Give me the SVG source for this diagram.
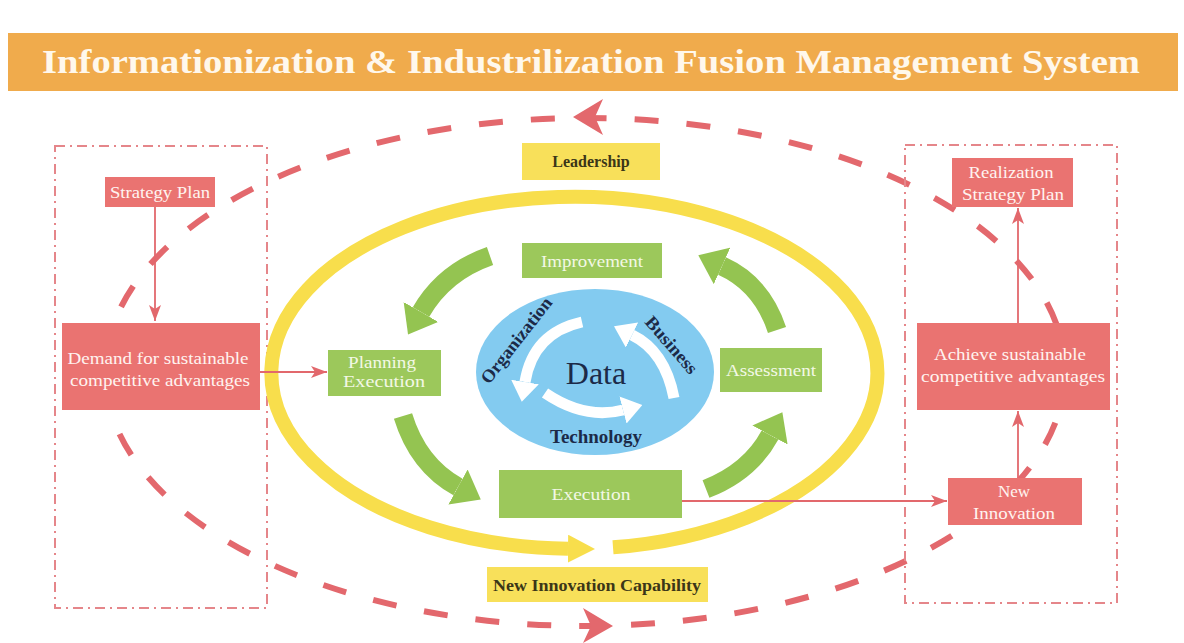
<svg xmlns="http://www.w3.org/2000/svg" width="1184" height="643" viewBox="0 0 1184 643">
<defs>
<style>
.title{font-family:"Liberation Serif","Times New Roman",serif;font-weight:bold;font-size:34px;fill:#FFF8EC}
.rt{font-family:"Liberation Serif","Times New Roman",serif;font-size:17px;fill:#FFF3F0}
.gt{font-family:"Liberation Serif","Times New Roman",serif;font-size:17px;fill:#F3F8E6}
.yt{font-family:"Liberation Serif","Times New Roman",serif;font-weight:bold;font-size:16px;fill:#3B3618}
.dt{font-family:"Liberation Serif","Times New Roman",serif;font-size:18px;font-weight:bold;fill:#1C2A48}
.red{fill:#EA7371}
.green{fill:#9CC85B}
.yel{fill:#F8E05A}
.frame{fill:none;stroke:#E5868A;stroke-width:2;stroke-dasharray:10 5 2 5}
.conn{fill:none;stroke:#E2686C;stroke-width:1.8}
.garrow{fill:none;stroke:#94C451;stroke-width:19}
.warrow{fill:none;stroke:#FFFFFF;stroke-width:11}
</style>
<marker id="redHead" markerUnits="userSpaceOnUse" viewBox="0 0 16 12" refX="16" refY="6" markerWidth="16" markerHeight="12" orient="auto">
<path d="M0,0 L16,6 L0,12 L4,6 z" fill="#E2686C"/>
</marker>
<marker id="greenHead" markerUnits="userSpaceOnUse" viewBox="0 0 26 40" refX="0" refY="20" markerWidth="26" markerHeight="40" orient="auto">
<path d="M0,0 L26,20 L0,40 z" fill="#94C451"/>
</marker>
<marker id="whiteHead" markerUnits="userSpaceOnUse" viewBox="0 0 20 28" refX="0" refY="14" markerWidth="20" markerHeight="28" orient="auto">
<path d="M0,0 L20,14 L0,28 z" fill="#FFFFFF"/>
</marker>
<marker id="yellowHead" markerUnits="userSpaceOnUse" viewBox="0 0 27 28" refX="0" refY="14" markerWidth="27" markerHeight="28" orient="auto">
<path d="M0,0 L27,14 L0,28 z" fill="#F8DE4C"/>
</marker>
</defs>
<rect x="0" y="0" width="1184" height="643" fill="#FFFFFF"/>

<g id="title">
<rect x="8" y="33" width="1170" height="58" fill="#F0AB4C"/>
<text class="title" x="591" y="73" text-anchor="middle" textLength="1098" lengthAdjust="spacingAndGlyphs">Informationization &amp; Industrilization Fusion Management System</text>
</g>

<g id="outer-cycle">
<ellipse cx="585" cy="372" rx="480" ry="254" fill="none" stroke="#E3686D" stroke-width="6" stroke-dasharray="24 28"/>
<polygon points="573,117 603,99 595,117 603,135" fill="#E3686D"/>
<polygon points="613,626 583,608 591,626 583,643" fill="#E3686D"/>
</g>

<g id="left-frame"><rect class="frame" x="55" y="146" width="212" height="462"/></g>
<g id="right-frame"><rect class="frame" x="905" y="145" width="212" height="458"/></g>

<g id="yellow-cycle">
<path d="M613,547.3 A303,176 0 1 0 568,548.7" fill="none" stroke="#F8DE4C" stroke-width="14" marker-end="url(#yellowHead)"/>
</g>

<g id="connectors">
<line class="conn" x1="155" y1="207" x2="155" y2="321" marker-end="url(#redHead)"/>
<line class="conn" x1="260" y1="372" x2="327" y2="372" marker-end="url(#redHead)"/>
<line class="conn" x1="682" y1="501" x2="947" y2="501" marker-end="url(#redHead)"/>
<line class="conn" x1="1018" y1="478" x2="1018" y2="411" marker-end="url(#redHead)"/>
<line class="conn" x1="1018" y1="323" x2="1018" y2="208" marker-end="url(#redHead)"/>
<path class="garrow" d="M490,256 Q444,272 421,312" marker-end="url(#greenHead)"/>
<path class="garrow" d="M403,416 Q418,465 458,487" marker-end="url(#greenHead)"/>
<path class="garrow" d="M706,489 Q750,472 770,435" marker-end="url(#greenHead)"/>
<path class="garrow" d="M777,330 Q762,284 722,266" marker-end="url(#greenHead)"/>
</g>

<g id="leadership">
<rect class="yel" x="522" y="143" width="138" height="37"/>
<text class="yt" x="591" y="167" text-anchor="middle">Leadership</text>
</g>
<g id="new-innovation-capability">
<rect class="yel" x="487" y="567" width="221" height="35"/>
<text class="yt" x="597" y="591" text-anchor="middle" font-size="17" textLength="208" lengthAdjust="spacingAndGlyphs">New Innovation Capability</text>
</g>

<g id="strategy-plan">
<rect class="red" x="105" y="177" width="110" height="30"/>
<text class="rt" x="160" y="198" text-anchor="middle" font-size="16" textLength="100" lengthAdjust="spacingAndGlyphs">Strategy Plan</text>
</g>
<g id="demand">
<rect class="red" x="62" y="323" width="198" height="87"/>
<text class="rt" x="158" y="364" text-anchor="middle" textLength="181" lengthAdjust="spacingAndGlyphs">Demand for sustainable</text>
<text class="rt" x="160" y="386" text-anchor="middle" textLength="180" lengthAdjust="spacingAndGlyphs">competitive advantages</text>
</g>
<g id="realization">
<rect class="red" x="952" y="158" width="121" height="49"/>
<text class="rt" x="1011" y="178" text-anchor="middle" font-size="16" textLength="85" lengthAdjust="spacingAndGlyphs">Realization</text>
<text class="rt" x="1013" y="200" text-anchor="middle" font-size="16" textLength="102" lengthAdjust="spacingAndGlyphs">Strategy Plan</text>
</g>
<g id="achieve">
<rect class="red" x="917" y="323" width="193" height="87"/>
<text class="rt" x="1010" y="360" text-anchor="middle" textLength="152" lengthAdjust="spacingAndGlyphs">Achieve sustainable</text>
<text class="rt" x="1013" y="382" text-anchor="middle" textLength="184" lengthAdjust="spacingAndGlyphs">competitive advantages</text>
</g>
<g id="new-innovation">
<rect class="red" x="948" y="478" width="134" height="47"/>
<text class="rt" x="1014" y="497" text-anchor="middle" font-size="16">New</text>
<text class="rt" x="1014" y="519" text-anchor="middle" font-size="16" textLength="82" lengthAdjust="spacingAndGlyphs">Innovation</text>
</g>

<g id="improvement">
<rect class="green" x="522" y="243" width="140" height="35"/>
<text class="gt" x="592" y="267" text-anchor="middle" textLength="102" lengthAdjust="spacingAndGlyphs">Improvement</text>
</g>
<g id="planning-execution">
<rect class="green" x="328" y="350" width="113" height="46"/>
<text class="gt" x="382" y="368" text-anchor="middle" font-size="16" textLength="68" lengthAdjust="spacingAndGlyphs">Planning</text>
<text class="gt" x="384" y="387" text-anchor="middle" font-size="16" textLength="82" lengthAdjust="spacingAndGlyphs">Execution</text>
</g>
<g id="assessment">
<rect class="green" x="720" y="348" width="102" height="44"/>
<text class="gt" x="771" y="376" text-anchor="middle" font-size="16" textLength="90" lengthAdjust="spacingAndGlyphs">Assessment</text>
</g>
<g id="execution">
<rect class="green" x="499" y="470" width="183" height="48"/>
<text class="gt" x="591" y="500" text-anchor="middle" textLength="79" lengthAdjust="spacingAndGlyphs">Execution</text>
</g>

<g id="data">
<ellipse cx="595" cy="372" rx="119" ry="83" fill="#83CBF0"/>
<path class="warrow" d="M582,322 Q533,333 525,382" marker-end="url(#whiteHead)"/>
<path class="warrow" d="M545,393 Q585,420 623,410" marker-end="url(#whiteHead)"/>
<path class="warrow" d="M674,398 Q665,351 632,335" marker-end="url(#whiteHead)"/>
<text x="596" y="384" text-anchor="middle" font-family="Liberation Serif, Times New Roman, serif" font-size="32" fill="#1C2A48">Data</text>
<text class="dt" x="521" y="344" text-anchor="middle" transform="rotate(-52 521 344)" textLength="104" lengthAdjust="spacingAndGlyphs">Organization</text>
<text class="dt" x="667" y="349" text-anchor="middle" transform="rotate(49 667 349)" textLength="70" lengthAdjust="spacingAndGlyphs">Business</text>
<text class="dt" x="596" y="443" text-anchor="middle" textLength="92" lengthAdjust="spacingAndGlyphs">Technology</text>
</g>
</svg>
